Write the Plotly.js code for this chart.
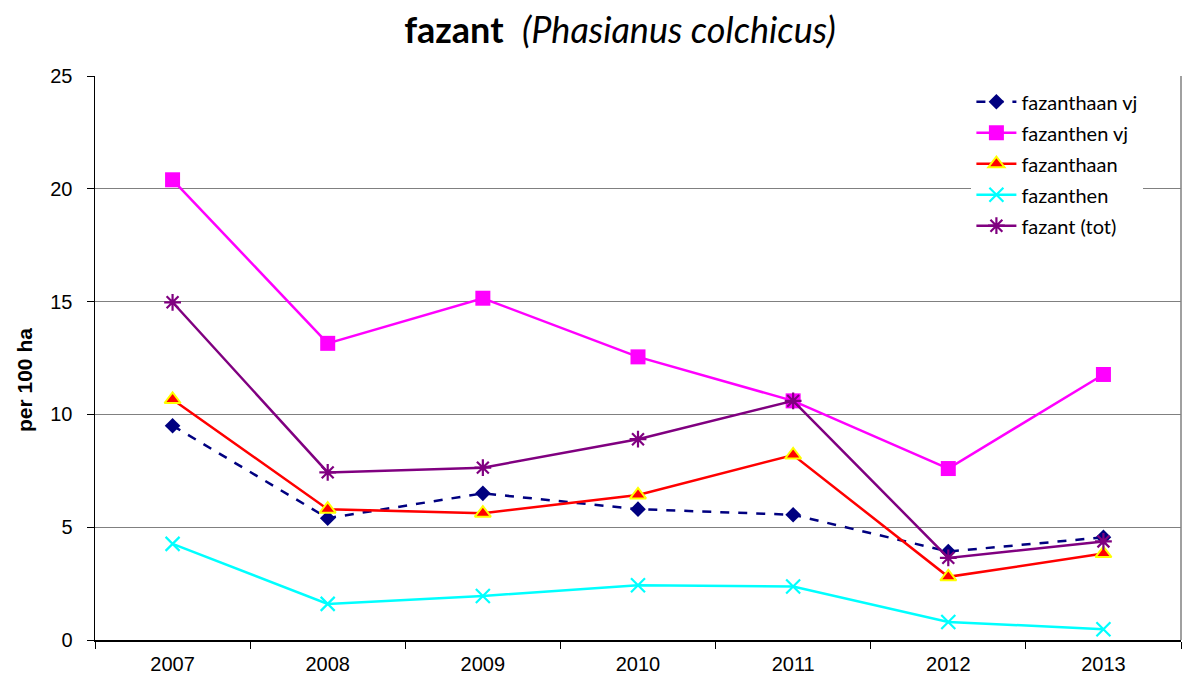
<!DOCTYPE html>
<html>
<head>
<meta charset="utf-8">
<script src="https://cdn.plot.ly/plotly-3.0.1.min.js"></script>
<style>html,body{margin:0;padding:0;background:#fff;}#chart{width:1182px;height:678px;}</style>
</head>
<body>
<div id="chart"></div>
<script>
const years = ['2007','2008','2009','2010','2011','2012','2013'];
const haanVj = [9.5, 5.4, 6.5, 5.8, 5.55, 3.92, 4.55];
const henVj = [20.4, 13.15, 15.15, 12.55, 10.6, 7.6, 11.77];
const haan = [10.66, 5.8, 5.62, 6.43, 8.2, 2.8, 3.83];
const hen = [4.26, 1.6, 1.95, 2.43, 2.37, 0.8, 0.48];
const tot = [14.97, 7.43, 7.64, 8.9, 10.6, 3.64, 4.37];
const yTicks = [0, 5, 10, 15, 20, 25];
const yTitle = 'per 100 ha';

const traces = [
  {name:'fazanthaan vj', legendgroup:'a', x:years, y:haanVj, type:'scatter', mode:'lines+markers',
   line:{color:'#000080', width:2.5, dash:'dash'},
   marker:{symbol:'diamond', size:12, color:'#000080'}},
  {name:'fazanthen vj', legendgroup:'b', x:years, y:henVj, type:'scatter', mode:'lines+markers',
   line:{color:'#FF00FF', width:2.5},
   marker:{symbol:'square', size:15, color:'#FF00FF'}},
  {name:'fazanthaan', legendgroup:'c', x:years, y:haan, type:'scatter', mode:'lines+markers',
   line:{color:'#FF0000', width:2.5},
   marker:{symbol:'triangle-up', size:14, color:'#FF0000', line:{color:'#FFFF00', width:2}}},
  {name:'fazanthen', legendgroup:'d', x:years, y:hen, type:'scatter', mode:'lines+markers',
   line:{color:'#00FFFF', width:2.5},
   marker:{symbol:'x-thin-open', size:14, color:'#00FFFF', line:{color:'#00FFFF', width:2.2}}},
  {name:'fazant (tot)', legendgroup:'e', x:years, y:tot, type:'scatter', mode:'lines+markers',
   line:{color:'#800080', width:2.5},
   marker:{symbol:'asterisk-open', size:14, color:'#800080', line:{color:'#800080', width:2.2}}}
];

const layout = {
  width:1182, height:678,
  margin:{l:95, r:1, t:76, b:38},
  paper_bgcolor:'#fff', plot_bgcolor:'#fff',
  showlegend:true,
  title:{text:'<b>fazant</b>  <i>(Phasianus colchicus)</i>', x:620/1182, xanchor:'center', y:0.955, yanchor:'middle',
    font:{family:'Lato, "Open Sans", sans-serif', size:36, color:'#000'}},
  xaxis:{type:'category', range:[-0.5,6.5], tickson:'boundaries', ticks:'outside', ticklen:7,
    tickcolor:'#000', showgrid:false, showline:true, linecolor:'#000', linewidth:1.5, ticklabelstandoff:5,
    tickfont:{family:'"Liberation Sans", Arial, sans-serif', size:20, color:'#000'}, fixedrange:true},
  yaxis:{range:[0,25], tickvals:yTicks, ticktext:yTicks.map(String), ticks:'outside', ticklen:7, tickcolor:'#000',
    showgrid:true, gridcolor:'#808080', gridwidth:1, zeroline:false, showline:true, linecolor:'#000', linewidth:1.5,
    ticklabelstandoff:10,
    tickfont:{family:'"Liberation Sans", Arial, sans-serif', size:20, color:'#000'},
    fixedrange:true},
  annotations:[
    {text:'<b>'+yTitle+'</b>', xref:'paper', yref:'paper', x:(24-95)/1086, y:(640-380)/564,
     xanchor:'center', yanchor:'middle', textangle:-90, showarrow:false,
     font:{family:'"Liberation Sans", Arial, sans-serif', size:21, color:'#000'}}
  ],
  legend:{x:0.807, y:0.989, xanchor:'left', yanchor:'top', bgcolor:'#fff', borderwidth:0,
    font:{family:'Lato, "Open Sans", sans-serif', size:20, color:'#000'}, tracegroupgap:2, itemwidth:40},
  shapes:[
    {type:'line', xref:'paper', yref:'paper', x0:1, x1:1, y0:0, y1:1, line:{color:'#808080', width:1.5}}
  ]
};

Plotly.newPlot('chart', traces, layout, {displayModeBar:false, staticPlot:true});
</script>
</body>
</html>
